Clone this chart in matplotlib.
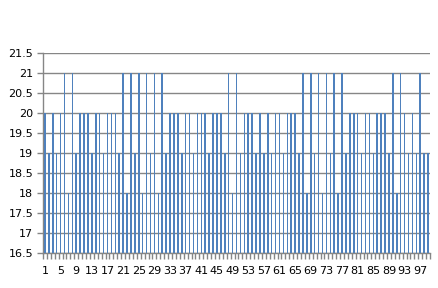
import matplotlib
matplotlib.use("Agg")
import matplotlib.pyplot as plt
import numpy as np

categories = list(range(1, 100))
values = [20, 19, 20, 19, 20, 21, 18, 21, 19, 20,
          20, 20, 19, 20, 20, 19, 20, 20, 20, 19,
          21, 18, 21, 19, 21, 18, 21, 19, 21, 18,
          21, 19, 20, 20, 20, 19, 20, 20, 19, 20,
          20, 20, 19, 20, 20, 20, 19, 21, 18, 21,
          19, 20, 20, 20, 19, 20, 19, 20, 19, 20,
          20, 19, 20, 20, 20, 19, 21, 18, 21, 19,
          21, 18, 21, 19, 21, 18, 21, 19, 20, 20,
          20, 19, 20, 20, 19, 20, 20, 20, 19, 21,
          18, 21, 20, 19, 20, 19, 21, 19, 19]
y_ticks = [16.5, 17, 17.5, 18, 18.5, 19, 19.5, 20, 20.5, 21, 21.5]
y_labels = ["16.5", "17", "17.5", "18", "18.5", "19", "19.5", "20", "20.5", "21", "21.5"]
x_label_cats = categories[::4]

fig = plt.figure(figsize=(4.39, 2.88), dpi=100)
ax = fig.add_axes([43/439, 1-253/288, (430-43)/439, (253-53)/288])

base = 16.5
heights = [v - base for v in values]
ax.bar(categories, heights, bottom=base, width=0.4, color="#4F81BD",
       linewidth=0, zorder=3, antialiased=False)

ax.set_xlim(0.5, len(categories) + 0.5)
ax.set_ylim(16.5, 21.5)
ax.set_yticks(y_ticks)
ax.set_yticklabels(y_labels)
ax.yaxis.grid(True, color="#868686", linewidth=1.0, zorder=0)
ax.set_axisbelow(True)

ax.set_xticks(x_label_cats)
ax.set_xticklabels([str(c) for c in x_label_cats])
ax.set_xticks(np.arange(0.5, len(categories) + 1, 1.0), minor=True)
ax.tick_params(axis="x", which="major", length=0, pad=9, labelsize=8)
ax.tick_params(axis="x", which="minor", length=4, width=1, color="#868686", direction="out")
ax.tick_params(axis="y", which="major", length=4, width=1, color="#868686", pad=3, labelsize=8)

for s in ["top", "right"]:
    ax.spines[s].set_visible(False)
for s in ["left", "bottom"]:
    ax.spines[s].set_color("#868686")
    ax.spines[s].set_linewidth(1.0)

fig.savefig("out.png", dpi=100)
